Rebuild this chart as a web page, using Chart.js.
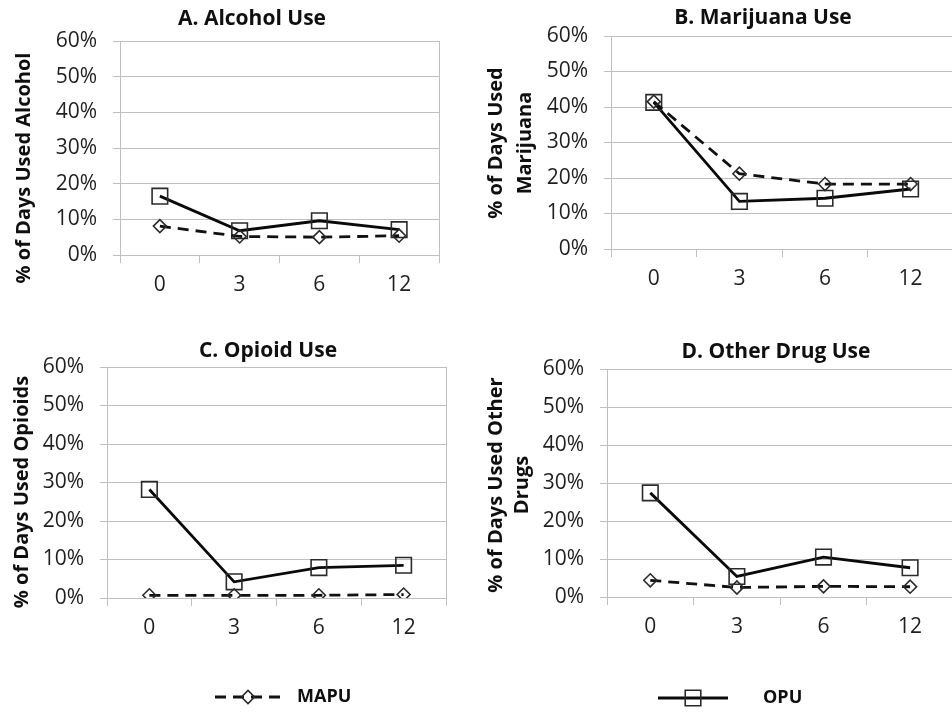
<!DOCTYPE html>
<html>
<head>
<meta charset="utf-8">
<script src="https://cdn.jsdelivr.net/npm/chart.js@4.4.0/dist/chart.umd.min.js"></script>
<style>
    html, body { margin: 0; padding: 0; background: #fff; width: 952px; height: 713px; overflow: hidden; }
    canvas { position: absolute; }
</style>
</head>
<body>
<canvas id="chartA" width="476" height="330" style="left:0;top:0"></canvas>
<canvas id="chartB" width="490" height="330" style="left:476px;top:0"></canvas>
<canvas id="chartC" width="476" height="383" style="left:0;top:330px"></canvas>
<canvas id="chartD" width="490" height="383" style="left:476px;top:330px"></canvas>
<script>
// months after baseline
const months = ['0', '3', '6', '12'];
const yTicks = [0, 10, 20, 30, 40, 50, 60];

// % of days used
const mapuAlcohol = [8.1, 5.2, 5.0, 5.4];
const opuAlcohol = [16.5, 6.8, 9.6, 7.1];
const mapuMarijuana = [41.5, 21.2, 18.3, 18.3];
const opuMarijuana = [41.3, 13.4, 14.3, 16.9];
const mapuOpioid = [0.7, 0.7, 0.7, 0.9];
const opuOpioid = [28.2, 4.2, 7.9, 8.5];
const mapuOther = [4.4, 2.5, 2.8, 2.7];
const opuOther = [27.4, 5.4, 10.5, 7.7];

const gridColor = '#bfbfbf';
const tickColor = '#1f1f1f';
const textColor = '#0f0f0f';
const FONT = "'Open Sans', sans-serif";

Chart.defaults.font.family = FONT;

// titles, rotated axis titles and the shared legend are drawn here
const sideText = {
    id: 'sideText',
    afterDraw(chart, args, opts) {
        const ctx = chart.ctx;
        ctx.save();
        ctx.fillStyle = textColor;
        ctx.textAlign = 'center';
        ctx.textBaseline = 'middle';
        ctx.font = 'bold 21px ' + FONT;
        ctx.fillText(opts.title.text, opts.title.x, opts.title.y);

        ctx.font = 'bold 20px ' + FONT;
        opts.yTitle.lines.forEach((t, i) => {
            ctx.save();
            ctx.translate(opts.yTitle.x[i], opts.yTitle.y);
            ctx.rotate(-Math.PI / 2);
            ctx.fillText(t, 0, 0);
            ctx.restore();
        });

        if (opts.legend) {
            const lg = opts.legend;
            const ds = chart.data.datasets[lg.index];
            ctx.strokeStyle = ds.borderColor;
            ctx.lineWidth = ds.borderWidth;
            ctx.setLineDash(ds.borderDash || []);
            ctx.beginPath();
            ctx.moveTo(lg.x0, lg.y);
            ctx.lineTo(lg.x1, lg.y);
            ctx.stroke();
            ctx.setLineDash([]);
            ctx.strokeStyle = ds.pointBorderColor;
            ctx.fillStyle = 'rgba(0,0,0,0)';
            ctx.lineWidth = ds.pointBorderWidth;
            Chart.helpers.drawPoint(ctx, {
                pointStyle: ds.pointStyle, rotation: 0,
                radius: ds.pointRadius, borderWidth: ds.pointBorderWidth
            }, lg.px, lg.y);
            ctx.fillStyle = textColor;
            ctx.textAlign = 'left';
            ctx.font = 'bold 18px ' + FONT;
            ctx.fillText(ds.label, lg.tx, lg.y);
        }
        ctx.restore();
    }
};

function makeDatasets(mapu, opu) {
    return [
        {
            label: 'MAPU',
            data: mapu,
            borderColor: '#111',
            borderWidth: 2.8,
            borderDash: [11, 7],
            tension: 0,
            pointStyle: 'rectRot',
            pointRadius: 6.5,
            pointBorderWidth: 1.6,
            pointBorderColor: '#2a2a2a',
            pointBackgroundColor: 'rgba(0,0,0,0)'
        },
        {
            label: 'OPU',
            data: opu,
            borderColor: '#0a0a0a',
            borderWidth: 2.8,
            tension: 0,
            pointStyle: 'rect',
            pointRadius: 11,
            pointBorderWidth: 1.6,
            pointBorderColor: '#2a2a2a',
            pointBackgroundColor: 'rgba(0,0,0,0)'
        }
    ];
}

function makePanel(id, mapu, opu, p) {
    return new Chart(document.getElementById(id), {
        type: 'line',
        data: { labels: months, datasets: makeDatasets(mapu, opu) },
        plugins: [sideText],
        options: {
            responsive: false,
            animation: false,
            events: [],
            layout: { padding: { left: 0, top: p.top, right: p.right, bottom: 0 } },
            plugins: {
                legend: { display: false },
                tooltip: { enabled: false },
                sideText: { title: p.title, yTitle: p.yTitle, legend: p.legend }
            },
            scales: {
                x: {
                    offset: true,
                    grid: {
                        offset: true,
                        color: c => c.type === 'scale' ? gridColor : 'rgba(0,0,0,0)',
                        tickColor: gridColor,
                        tickLength: 8
                    },
                    border: { display: true, color: gridColor },
                    ticks: { color: tickColor, font: { size: 21 }, padding: 9 },
                    afterFit: s => { s.height = p.xHeight; }
                },
                y: {
                    min: 0,
                    max: 60,
                    afterBuildTicks: s => { s.ticks = yTicks.map(v => ({ value: v })); },
                    grid: { color: gridColor, tickLength: 7 },
                    border: { display: true, color: gridColor },
                    ticks: { color: tickColor, font: { size: 21 }, padding: 16, callback: v => v + '%' },
                    afterFit: s => { s.width = p.yWidth; }
                }
            }
        }
    });
}

makePanel('chartA', mapuAlcohol, opuAlcohol, {
    top: 41, right: 37, yWidth: 120, xHeight: 75,
    title: { text: 'A. Alcohol Use', x: 252, y: 19 },
    yTitle: { lines: ['% of Days Used Alcohol'], x: [24], y: 168 }
});

makePanel('chartB', mapuMarijuana, opuMarijuana, {
    top: 36, right: 5, yWidth: 135, xHeight: 81,
    title: { text: 'B. Marijuana Use', x: 287, y: 18 },
    yTitle: { lines: ['% of Days Used', 'Marijuana'], x: [20, 49], y: 143 }
});

makePanel('chartC', mapuOpioid, opuOpioid, {
    top: 37, right: 30, yWidth: 107, xHeight: 115,
    title: { text: 'C. Opioid Use', x: 268, y: 21 },
    yTitle: { lines: ['% of Days Used Opioids'], x: [22], y: 162 },
    legend: { index: 0, x0: 215, x1: 281, px: 248, y: 367, tx: 297 }
});

makePanel('chartD', mapuOther, opuOther, {
    top: 39, right: 4, yWidth: 131, xHeight: 116,
    title: { text: 'D. Other Drug Use', x: 300, y: 22 },
    yTitle: { lines: ['% of Days Used Other', 'Drugs'], x: [20, 46], y: 155 },
    legend: { index: 1, x0: 182, x1: 252, px: 217, y: 368, tx: 287 }
});
</script>
</body>
</html>
